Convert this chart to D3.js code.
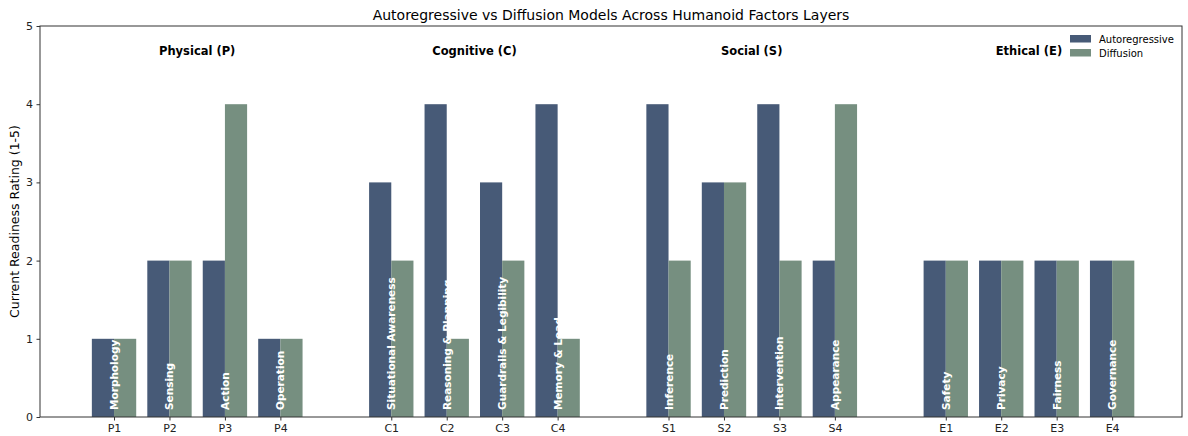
<!DOCTYPE html>
<html>
<head>
<meta charset="utf-8">
<script src="https://cdn.jsdelivr.net/npm/d3@7"></script>
<style>
  body { margin: 0; background: #fff; }
  text { font-family: "DejaVu Sans", sans-serif; }
</style>
</head>
<body>
<div id="chart"></div>
<script>
// chart data
var codes = ["P1","P2","P3","P4","C1","C2","C3","C4","S1","S2","S3","S4","E1","E2","E3","E4"];
var factorNames = ["Morphology","Sensing","Action","Operation",
    "Situational Awareness","Reasoning & Planning","Guardrails & Legibility","Memory & Load",
    "Inference","Prediction","Intervention","Appearance",
    "Safety","Privacy","Fairness","Governance"];
var autoregressive = [1,2,2,1, 3,4,3,4, 4,3,4,2, 2,2,2,2];
var diffusion      = [1,2,4,1, 2,1,2,1, 2,3,2,4, 2,2,2,2];
var layers = ["Physical (P)","Cognitive (C)","Social (S)","Ethical (E)"];
var seriesNames = ["Autoregressive","Diffusion"];
var yTicks = [0,1,2,3,4,5];

var width = 1188, height = 436;
var margin = {left: 40, right: 6, top: 26, bottom: 19};
var colors = ["#475a77", "#768f80"];

var svg = d3.select("#chart").append("svg")
    .attr("width", width)
    .attr("height", height);

// positions: groups of 4 with a gap of one slot
var pos = codes.map(function(d, i) { return i + Math.floor(i / 4); });

var x = d3.scaleLinear()
    .domain([-1.335, 19.26])
    .range([margin.left, width - margin.right]);
var y = d3.scaleLinear()
    .domain([0, 5])
    .range([height - margin.bottom, margin.top]);

var barW = 0.4;

// bars
var series = [autoregressive, diffusion];
series.forEach(function(vals, s) {
    svg.append("g").selectAll("rect")
        .data(vals)
        .enter()
        .append("rect")
        .attr("fill", colors[s])
        .attr("x", function(d, i) { return x(pos[i] + (s - 1) * barW); })
        .attr("width", x(barW) - x(0))
        .attr("y", function(d) { return y(d); })
        .attr("height", function(d) { return y(0) - y(d); });
});

// factor names inside the bars
svg.append("g").selectAll("text")
    .data(factorNames)
    .enter()
    .append("text")
    .attr("transform", function(d, i) {
        return "translate(" + (x(pos[i]) + 4) + "," + (y(0.09)) + ") rotate(-90)";
    })
    .attr("fill", "white")
    .attr("font-weight", "bold")
    .attr("font-size", "10.5px")
    .text(function(d) { return d; });

// layer headers
svg.append("g").selectAll("text")
    .data(layers)
    .enter()
    .append("text")
    .attr("x", function(d, i) { return x(i * 5 + 1.5); })
    .attr("y", y(4.63))
    .attr("text-anchor", "middle")
    .attr("font-weight", "bold")
    .attr("font-size", "11.5px")
    .text(function(d) { return d; });

// axes
var xAxis = d3.axisBottom(x)
    .tickValues(pos)
    .tickFormat(function(d, i) { return codes[i]; })
    .tickSize(3.5)
    .tickSizeOuter(0);
var gx = svg.append("g")
    .attr("transform", "translate(0," + y(0) + ")")
    .call(xAxis);

var yAxis = d3.axisLeft(y)
    .tickValues(yTicks)
    .tickFormat(d3.format("d"))
    .tickSize(3.5)
    .tickSizeOuter(0);
var gy = svg.append("g")
    .attr("transform", "translate(" + margin.left + ",0)")
    .call(yAxis);

[gx, gy].forEach(function(g) {
    g.select(".domain").remove();
    g.selectAll(".tick line").attr("stroke", "#333");
    g.selectAll(".tick text")
        .attr("font-family", "DejaVu Sans, sans-serif")
        .attr("font-size", "11px")
        .attr("fill", "#222");
});
gx.selectAll(".tick text").attr("dy", "1em").attr("y", 4);
gy.selectAll(".tick text").attr("x", -7);

// frame
svg.append("rect")
    .attr("x", margin.left)
    .attr("y", margin.top)
    .attr("width", width - margin.right - margin.left)
    .attr("height", y(0) - margin.top)
    .attr("fill", "none")
    .attr("stroke", "#333")
    .attr("stroke-width", 1);

// title
svg.append("text")
    .attr("x", (margin.left + width - margin.right) / 2)
    .attr("y", 20)
    .attr("text-anchor", "middle")
    .attr("font-size", "14px")
    .text("Autoregressive vs Diffusion Models Across Humanoid Factors Layers");

// y label
svg.append("text")
    .attr("transform", "translate(19," + ((margin.top + y(0)) / 2) + ") rotate(-90)")
    .attr("text-anchor", "middle")
    .attr("font-size", "12.5px")
    .text("Current Readiness Rating (1-5)");

// legend
var legend = svg.append("g")
    .attr("transform", "translate(1070,35)");
seriesNames.forEach(function(name, i) {
    legend.append("rect")
        .attr("x", 0)
        .attr("y", i * 14)
        .attr("width", 21)
        .attr("height", 7.5)
        .attr("fill", colors[i]);
    legend.append("text")
        .attr("x", 29)
        .attr("y", i * 14 + 7.5)
        .attr("font-size", "10px")
        .text(name);
});
</script>
</body>
</html>
